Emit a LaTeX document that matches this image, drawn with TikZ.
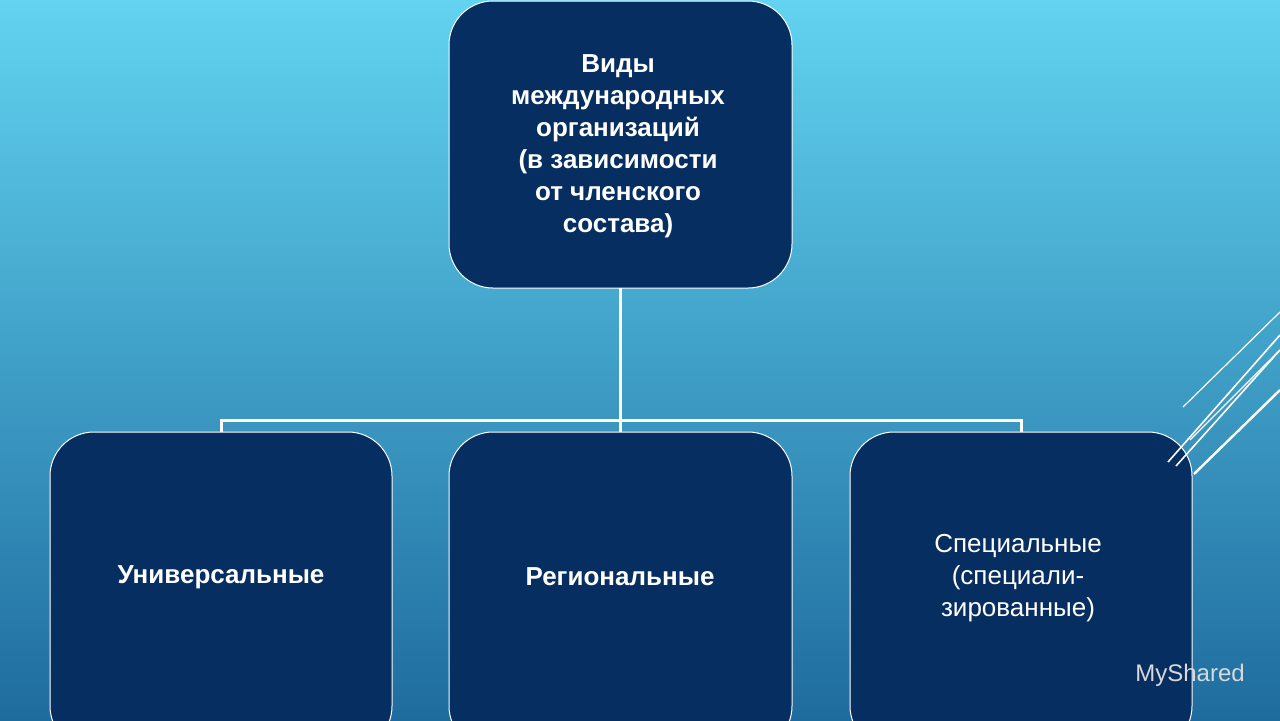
\documentclass[tikz,border=0pt]{standalone}
\usepackage{fontspec}
\setmainfont{Liberation Sans}
\definecolor{navy}{HTML}{072E60}
\definecolor{bgtop}{HTML}{62D3F0}
\definecolor{bgbot}{HTML}{1E6C9E}
\begin{document}
\begin{tikzpicture}[x=0.5pt,y=-0.5pt,
  box/.style={draw=white,line width=0.5pt,fill=navy,rounded corners=22pt},
  conn/.style={draw=white,line width=1.5pt}]
\shade[top color=bgtop,bottom color=bgbot] (0,0) rectangle (1280,720);
\useasboundingbox (0,0) rectangle (1280,720);
\begin{scope}
\clip (0,0) rectangle (1280,720);
\draw[box] (449,1) rectangle (792,288);
\node[text=white,align=center,font=\bfseries\fontsize{13}{16}\selectfont] (top) at (618,146) {Виды\\международных\\организаций\\(в зависимости\\от членского\\состава)};
\draw[box] (50,432) rectangle (392,750);
\draw[box] (449,432) rectangle (792,750);
\draw[box] (850,432) rectangle (1192,750);
\node[text=white,font=\bfseries\fontsize{13}{16}\selectfont] (u) at (221,577) {Универсальные};
\node[text=white,font=\bfseries\fontsize{13}{16}\selectfont] (r) at (620,577) {Региональные};
\node[text=white,align=center,font=\fontsize{13}{16}\selectfont] (s) at (1018,578) {Специальные\\(специали-\\зированные)};
\coordinate (tb) at (620,288);
\coordinate (j) at (620,420);
\draw[conn] (tb) -- (j);
\draw[conn] (221,432) -- (221,420) -- (1021,420) -- (1021,432);
\draw[conn] (620,420) -- (620,432);
\draw[white,line width=0.6pt] (1183,407) -- (1280,312);
\draw[white,line width=0.6pt] (1190,440) -- (1280,350);
\draw[white,line width=0.8pt] (1168,462) -- (1280,335);
\draw[white,line width=0.8pt] (1176,466) -- (1280,350);
\draw[white,line width=1.2pt] (1194,474) -- (1280,390);
\node[text=gray!30,font=\fontsize{12}{12}\selectfont] (ms) at (1190,675) {MyShared};
\end{scope}
\end{tikzpicture}
\end{document}
